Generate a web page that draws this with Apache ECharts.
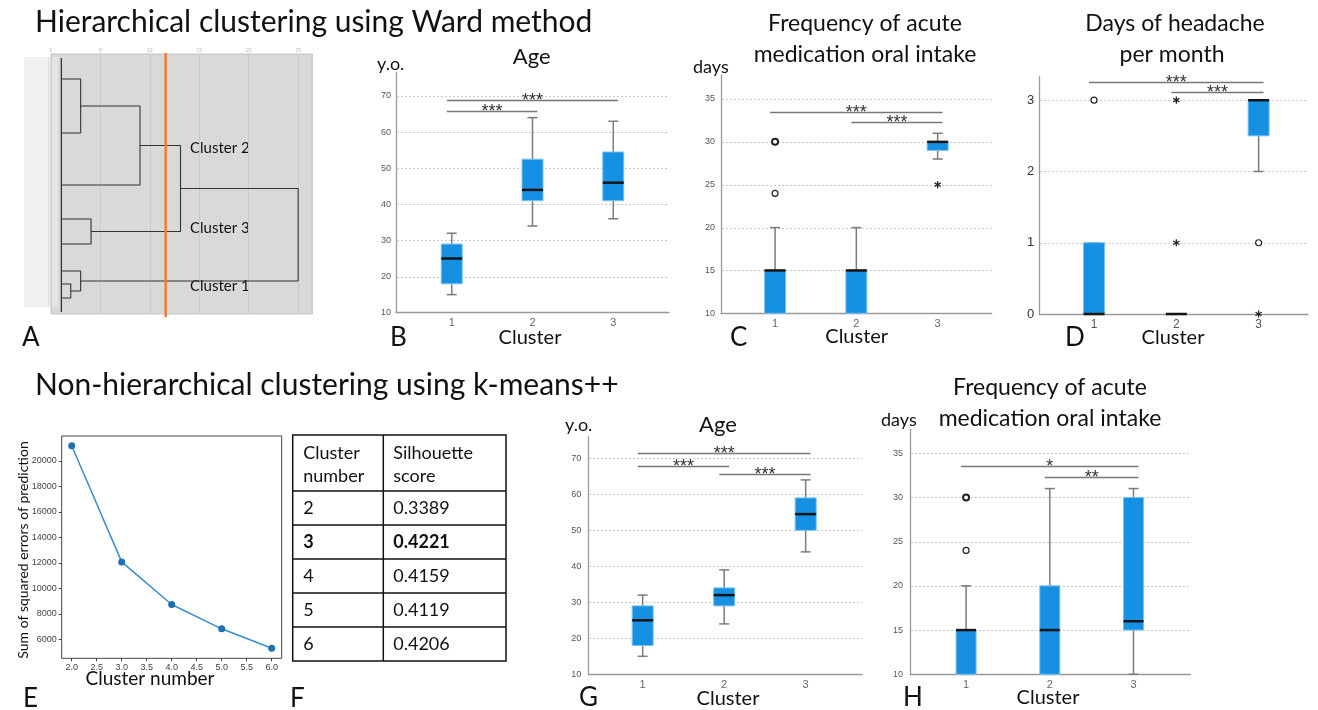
<!DOCTYPE html>
<html><head><meta charset="utf-8">
<script src="https://cdn.jsdelivr.net/npm/echarts@6/dist/echarts.min.js"></script>
<style>html,body{margin:0;padding:0;background:#fff}#c{width:1318px;height:710px}</style>
</head><body><div id="c"></div>
<script>
// ---------- DATA ----------
const clusterCats = [1, 2, 3];

// A: dendrogram (rescaled distance 0-25; leaf-order position 0-130)
const dendroTicks = [0, 5, 10, 15, 20, 25];
const dendroMergeHeight = [3.0, 9.0, 4.05, 13.1, 2.0, 3.0, 25.0];
const dendroTopPos      = [12.5, 26.0, 82.5, 45.75, 115, 108.5, 67.25];
const dendroTopChildH   = [1.05, 3.0, 1.05, 9.0, 1.05, 1.05, 13.1];
const dendroBotPos      = [39.5, 65.5, 95, 88.75, 122, 118.5, 113.5];
const dendroBotChildH   = [1.05, 1.05, 1.05, 4.05, 1.05, 2.0, 3.0];
const dendroLeafDist = 1.05;
const dendroLeafSpan = [2, 129];
const dendroCut = 11.6;
const dendroClusterNames = ['Cluster 2', 'Cluster 3', 'Cluster 1'];

// B: Age (hierarchical)  [min, Q1, median, Q3, max]
const ageHierBox = [[15, 18, 25, 29, 32], [34, 41, 44, 52.5, 64], [36, 41, 46, 54.5, 63]];
const ageTicks = [10, 20, 30, 40, 50, 60, 70];
const ageHierSig = [[1, 3, 69.0], [1, 2, 65.8]];
const ageHierSigLabels = ['***', '***'];

// C: Frequency of acute medication oral intake (hierarchical)
const freqHierBox = [[10, 10, 15, 15, 20], [10, 10, 15, 15, 20], [28, 29, 30, 30, 31]];
const freqTicks = [10, 15, 20, 25, 30, 35];
const freqHierOutliers = [[1, 30, 'O'], [1, 24, 'o'], [3, 25, '*']];
const freqHierSig = [[1, 3, 33.48], [2, 3, 32.27]];
const freqHierSigLabels = ['***', '***'];

// D: Days of headache per month (hierarchical)
const headBox = [[0, 0, 0, 1, 1], [0, 0, 0, 0, 0], [2, 2.5, 3, 3, 3]];
const headTicks = [0, 1, 2, 3];
const headOutliers = [[1, 3, 'o'], [2, 3, '*'], [2, 1, '*'], [3, 1, 'o'], [3, 0, '*']];
const headSig = [[1, 3, 3.25], [2, 3, 3.11]];
const headSigLabels = ['***', '***'];

// E: elbow plot
const elbowK = [2, 3, 4, 5, 6];
const elbowSSE = [21180, 12070, 8730, 6820, 5300];
const elbowXTicks = [2.0, 2.5, 3.0, 3.5, 4.0, 4.5, 5.0, 5.5, 6.0];
const elbowYTicks = [6000, 8000, 10000, 12000, 14000, 16000, 18000, 20000];

// F: silhouette table
const silHeader = [['Cluster', 'number'], ['Silhouette', 'score']];
const silClusters = ['2', '3', '4', '5', '6'];
const silScores = ['0.3389', '0.4221', '0.4159', '0.4119', '0.4206'];
const silBestIndex = 1;

// G: Age (k-means++)
const ageKBox = [[15, 18, 25, 29, 32], [24, 29, 32, 34, 39], [44, 50, 54.5, 59, 64]];
const ageKSig = [[1, 3, 71.4], [1, 2, 67.9], [2, 3, 65.7]];
const ageKSigLabels = ['***', '***', '***'];

// H: Frequency of acute medication oral intake (k-means++)
const freqKBox = [[10, 10, 15, 15, 20], [10, 10, 15, 20, 31], [10, 15, 16, 30, 31]];
const freqKOutliers = [[1, 30, 'O'], [1, 24, 'o']];
const freqKSig = [[1, 3, 33.5], [2, 3, 32.36]];
const freqKSigLabels = ['*', '**'];

// ---------- LAYOUT / STYLE ----------
const FONT = 'Lato, "Open Sans", sans-serif';
const TICKFONT = '"Liberation Sans", Arial, sans-serif';
const grids = [], xAxes = [], yAxes = [], series = [], graphics = [];

function addText(x, y, text, size, align, extra, weight) {
  graphics.push(Object.assign({
    type: 'text', x: x, y: y, silent: true,
    style: { text: text, font: (weight ? weight + ' ' : '') + size + 'px ' + FONT, fill: '#111', align: align || 'left', verticalAlign: 'middle' }
  }, extra || {}));
}

// --- Panel A (grid 0)
grids.push({ left: 51, top: 54, width: 261, height: 260, show: true, backgroundColor: '#d9d9d9', borderColor: '#c4c4c4', borderWidth: 1, outerBoundsMode: 'none' });
xAxes.push({ gridIndex: 0, type: 'value', position: 'top', min: 0, max: 26.4, interval: 5,
  axisLine: { show: false }, axisTick: { show: false },
  axisLabel: { fontSize: 5, color: '#b8b8b8', margin: 1, showMaxLabel: false },
  splitLine: { show: true, lineStyle: { color: '#cbcbcb', width: 1 } } });
yAxes.push({ gridIndex: 0, type: 'value', inverse: true, min: 0, max: 130, show: false, splitLine: { show: false } });
for (let i = 0; i < dendroMergeHeight.length; i++) {
  series.push({ type: 'line', xAxisIndex: 0, yAxisIndex: 0, silent: true, symbol: 'none', z: 3,
    lineStyle: { color: '#333', width: 1.1 },
    data: [[dendroTopChildH[i], dendroTopPos[i]], [dendroMergeHeight[i], dendroTopPos[i]],
           [dendroMergeHeight[i], dendroBotPos[i]], [dendroBotChildH[i], dendroBotPos[i]]] });
}
series.push({ type: 'line', xAxisIndex: 0, yAxisIndex: 0, silent: true, symbol: 'none', z: 3,
  lineStyle: { color: '#333', width: 1.3 },
  data: [[dendroLeafDist, dendroLeafSpan[0]], [dendroLeafDist, dendroLeafSpan[1]]] });
series.push({ type: 'line', xAxisIndex: 0, yAxisIndex: 0, silent: true, symbol: 'none', z: 4, clip: false,
  lineStyle: { color: '#ed7d31', width: 2.5 },
  data: [[dendroCut, -0.5], [dendroCut, 131.5]] });
graphics.push({ type: 'rect', silent: true, shape: { x: 24, y: 57, width: 24, height: 250 }, style: { fill: '#f0f0f0' } });
graphics.push({ type: 'rect', silent: true, shape: { x: 48, y: 57, width: 10, height: 250 }, style: { fill: '#e4e4e4' } });
addText(190, 148, dendroClusterNames[0], 15);
addText(190, 228, dendroClusterNames[1], 15);
addText(190, 286, dendroClusterNames[2], 15);

// --- box-plot panels
function boxPanel(cfg) {
  const gi = grids.length;
  grids.push({ left: cfg.left, top: cfg.top, width: cfg.width, height: cfg.height, outerBoundsMode: 'none' });
  xAxes.push({ gridIndex: gi, type: 'value', min: cfg.x[0], max: cfg.x[1],
    axisLine: { show: true, lineStyle: { color: '#9a9a9a', width: 1.3 } }, axisTick: { show: false },
    splitLine: { show: false },
    axisLabel: { customValues: clusterCats, fontSize: cfg.catFont || 11, color: cfg.catColor || '#666', margin: 5, fontFamily: TICKFONT } });
  yAxes.push({ gridIndex: gi, type: 'value', min: cfg.y[0], max: cfg.y[1],
    axisLine: { show: true, lineStyle: { color: '#9a9a9a', width: 1.3 } }, axisTick: { show: false },
    splitLine: { show: false },
    axisLabel: { customValues: cfg.ticks, fontSize: cfg.tickFont || 9, color: cfg.tickColor || '#555', margin: cfg.tickMargin || 5, fontFamily: TICKFONT } });
  // dotted gridlines
  series.push({ type: 'custom', xAxisIndex: gi, yAxisIndex: gi, silent: true, z: 1,
    data: cfg.ticks.filter(t => t > cfg.y[0]).map(t => [2, t]), encode: { x: 0, y: 1 },
    renderItem: (params, api) => {
      const cs = params.coordSys;
      const y = Math.round(api.coord([api.value(0), api.value(1)])[1]) + 0.5;
      return { type: 'line', shape: { x1: cs.x + 1, y1: y, x2: cs.x + cs.width, y2: y },
        style: { stroke: '#c6c6c6', lineWidth: 1, lineDash: [2, 2] } };
    } });
  // boxes
  const bw = cfg.boxWidth || 21, cw = 10;
  series.push({ type: 'custom', xAxisIndex: gi, yAxisIndex: gi, silent: true, z: 3,
    data: cfg.box.map((b, i) => [clusterCats[i]].concat(b)), encode: { x: 0, y: [1, 2, 3, 4, 5] },
    renderItem: (params, api) => {
      const xv = api.value(0);
      const c = k => api.coord([xv, api.value(k)]);
      const pMin = c(1), pQ1 = c(2), pMed = c(3), pQ3 = c(4), pMax = c(5);
      const cx = pMed[0];
      const wh = { stroke: '#7b7b7b', lineWidth: 1.5 };
      return { type: 'group', children: [
        { type: 'line', shape: { x1: cx, y1: pMin[1], x2: cx, y2: pQ1[1] }, style: wh },
        { type: 'line', shape: { x1: cx, y1: pQ3[1], x2: cx, y2: pMax[1] }, style: wh },
        { type: 'line', shape: { x1: cx - cw / 2, y1: pMin[1], x2: cx + cw / 2, y2: pMin[1] }, style: wh },
        { type: 'line', shape: { x1: cx - cw / 2, y1: pMax[1], x2: cx + cw / 2, y2: pMax[1] }, style: wh },
        { type: 'rect', shape: { x: cx - bw / 2, y: pQ3[1], width: bw, height: pQ1[1] - pQ3[1] },
          style: { fill: '#1590e2', stroke: '#7cc2f2', lineWidth: 1 } },
        { type: 'line', shape: { x1: cx - bw / 2, y1: pMed[1], x2: cx + bw / 2, y2: pMed[1] },
          style: { stroke: '#151515', lineWidth: 2.5 } }
      ] };
    } });
  // outliers
  if (cfg.out && cfg.out.length) {
    const outs = cfg.out;
    series.push({ type: 'custom', xAxisIndex: gi, yAxisIndex: gi, silent: true, z: 4,
      data: outs.map(o => [o[0], o[1]]), encode: { x: 0, y: 1 },
      renderItem: (params, api) => {
        const p = api.coord([api.value(0), api.value(1)]);
        const kind = outs[params.dataIndex][2];
        if (kind === '*') {
          const r = 3.6, ch = [];
          [90, 30, -30].forEach(a => {
            const rad = a * Math.PI / 180, dx = r * Math.cos(rad), dy = r * Math.sin(rad);
            ch.push({ type: 'line', shape: { x1: p[0] - dx, y1: p[1] - dy, x2: p[0] + dx, y2: p[1] + dy },
              style: { stroke: '#222', lineWidth: 1.3 } });
          });
          return { type: 'group', children: ch };
        }
        return { type: 'circle', shape: { cx: p[0], cy: p[1], r: 3 },
          style: { fill: '#fff', stroke: '#222', lineWidth: kind === 'O' ? 2 : 1.2 } };
      } });
  }
  // significance brackets
  const labels = cfg.sigLabels;
  series.push({ type: 'custom', xAxisIndex: gi, yAxisIndex: gi, silent: true, z: 5,
    data: cfg.sig, encode: { x: [0, 1], y: 2 },
    renderItem: (params, api) => {
      const p1 = api.coord([api.value(0) - 0.06, api.value(2)]);
      const p2 = api.coord([api.value(1) + 0.06, api.value(2)]);
      const y = Math.round(p1[1]) + 0.5;
      return { type: 'group', children: [
        { type: 'line', shape: { x1: p1[0], y1: y, x2: p2[0], y2: y }, style: { stroke: '#777', lineWidth: 1.5 } },
        { type: 'text', x: (p1[0] + p2[0]) / 2, y: y + 0.5,
          style: { text: labels[params.dataIndex], fill: '#333', font: '18px ' + TICKFONT, align: 'center', verticalAlign: 'middle' } }
      ] };
    } });
}

boxPanel({ left: 396, top: 72.5, width: 273, height: 240.2, x: [0.31, 3.69], y: [10, 76.5], ticks: ageTicks,
  box: ageHierBox, sig: ageHierSig, sigLabels: ageHierSigLabels });
boxPanel({ left: 721, top: 75, width: 270.7, height: 238.3, x: [0.335, 3.665], y: [10, 37.8], ticks: freqTicks,
  box: freqHierBox, out: freqHierOutliers, sig: freqHierSig, sigLabels: freqHierSigLabels, tickMargin: 6 });
boxPanel({ left: 1039.3, top: 76.7, width: 268.7, height: 237.3, x: [0.335, 3.6], y: [0, 3.33], ticks: headTicks,
  box: headBox, out: headOutliers, sig: headSig, sigLabels: headSigLabels, tickFont: 13, tickColor: '#333', catFont: 12, catColor: '#555' });
// E grid
const eIdx = grids.length;
grids.push({ left: 61.7, top: 436, width: 220, height: 222.3, show: true, borderColor: '#444', borderWidth: 1, outerBoundsMode: 'none' });
xAxes.push({ gridIndex: eIdx, type: 'value', min: 1.8, max: 6.2,
  axisLine: { show: false }, splitLine: { show: false },
  axisTick: { show: true, customValues: elbowXTicks, length: 3, lineStyle: { color: '#444' } },
  axisLabel: { customValues: elbowXTicks, formatter: v => v.toFixed(1), fontSize: 9, color: '#444', margin: 5, fontFamily: TICKFONT } });
yAxes.push({ gridIndex: eIdx, type: 'value', min: 4508, max: 21942,
  axisLine: { show: false }, splitLine: { show: false },
  axisTick: { show: true, customValues: elbowYTicks, length: 3, lineStyle: { color: '#444' } },
  axisLabel: { customValues: elbowYTicks, formatter: v => String(v), fontSize: 9, color: '#444', margin: 5, fontFamily: TICKFONT } });
series.push({ type: 'line', xAxisIndex: eIdx, yAxisIndex: eIdx, silent: true, symbol: 'circle', symbolSize: 7,
  lineStyle: { color: '#3a8cd0', width: 1.5 }, itemStyle: { color: '#1f6fb4' },
  data: elbowK.map((k, i) => [k, elbowSSE[i]]) });

boxPanel({ left: 588.3, top: 436.7, width: 273.6, height: 237.6, x: [0.333, 3.69], y: [10, 76], ticks: ageTicks,
  box: ageKBox, sig: ageKSig, sigLabels: ageKSigLabels, tickMargin: 7 });
boxPanel({ left: 910, top: 429.3, width: 280.4, height: 245, x: [0.33, 3.68], y: [10, 37.7], ticks: freqTicks,
  box: freqKBox, out: freqKOutliers, sig: freqKSig, sigLabels: freqKSigLabels, boxWidth: 20, tickMargin: 7 });

// ---------- TEXTS ----------
addText(35, 22, 'Hierarchical clustering using Ward method', 30);
addText(35, 385, 'Non-hierarchical clustering using k-means++', 30);
[['A', 22, 338], ['B', 390, 338], ['C', 730, 338], ['D', 1065, 338],
 ['E', 23, 699], ['F', 290, 699], ['G', 579, 698], ['H', 903, 698]].forEach(l => addText(l[1], l[2], l[0], 26));
// B
addText(377, 64, 'y.o.', 18);
addText(531.7, 56.7, 'Age', 22, 'center');
addText(530, 337.7, 'Cluster', 20, 'center');
// C
addText(865, 24, 'Frequency of acute', 23, 'center');
addText(865, 55, 'medication oral intake', 23, 'center');
addText(693, 66.7, 'days', 18);
addText(856.7, 337, 'Cluster', 20, 'center');
// D
addText(1175, 24, 'Days of headache', 23, 'center');
addText(1172, 55, 'per month', 23, 'center');
addText(1173, 337.7, 'Cluster', 20, 'center');
// E
addText(23, 550, 'Sum of squared errors of prediction', 14, 'center', { rotation: Math.PI / 2 });
addText(150, 679, 'Cluster number', 19, 'center');
// G
addText(565, 425, 'y.o.', 18);
addText(718, 425, 'Age', 22, 'center');
addText(728, 699, 'Cluster', 20, 'center');
// H
addText(1050, 388, 'Frequency of acute', 23, 'center');
addText(1050, 419, 'medication oral intake', 23, 'center');
addText(881, 420, 'days', 18);
addText(1048, 698, 'Cluster', 20, 'center');

// ---------- TABLE F ----------
(function () {
  const tl = 292.7, tr = 506, tt = 435, colX = 383.3, headB = 491, rowH = 34;
  const tb = headB + rowH * silClusters.length;
  const ls = { stroke: '#111', lineWidth: 1.5 };
  graphics.push({ type: 'rect', silent: true, shape: { x: tl, y: tt, width: tr - tl, height: tb - tt }, style: { fill: 'none', stroke: '#111', lineWidth: 1.5 } });
  graphics.push({ type: 'line', silent: true, shape: { x1: colX, y1: tt, x2: colX, y2: tb }, style: ls });
  for (let i = 0; i < silClusters.length; i++) {
    const y = headB + rowH * i;
    graphics.push({ type: 'line', silent: true, shape: { x1: tl, y1: y, x2: tr, y2: y }, style: ls });
  }
  addText(tl + 10.5, 453.3, silHeader[0][0], 18);
  addText(tl + 10.5, 475.7, silHeader[0][1], 18);
  addText(colX + 10, 453.3, silHeader[1][0], 18);
  addText(colX + 10, 475.7, silHeader[1][1], 18);
  for (let i = 0; i < silClusters.length; i++) {
    const yc = headB + rowH * i + rowH / 2;
    const w = i === silBestIndex ? 'bold' : '';
    addText(tl + 10.5, yc, silClusters[i], 18, 'left', null, w);
    addText(colX + 10, yc, silScores[i], 18, 'left', null, w);
  }
})();

const chart = echarts.init(document.getElementById('c'), null, { renderer: 'canvas' });
chart.setOption({
  backgroundColor: '#fff',
  animation: false,
  grid: grids, xAxis: xAxes, yAxis: yAxes, series: series, graphic: graphics
});
</script></body></html>
